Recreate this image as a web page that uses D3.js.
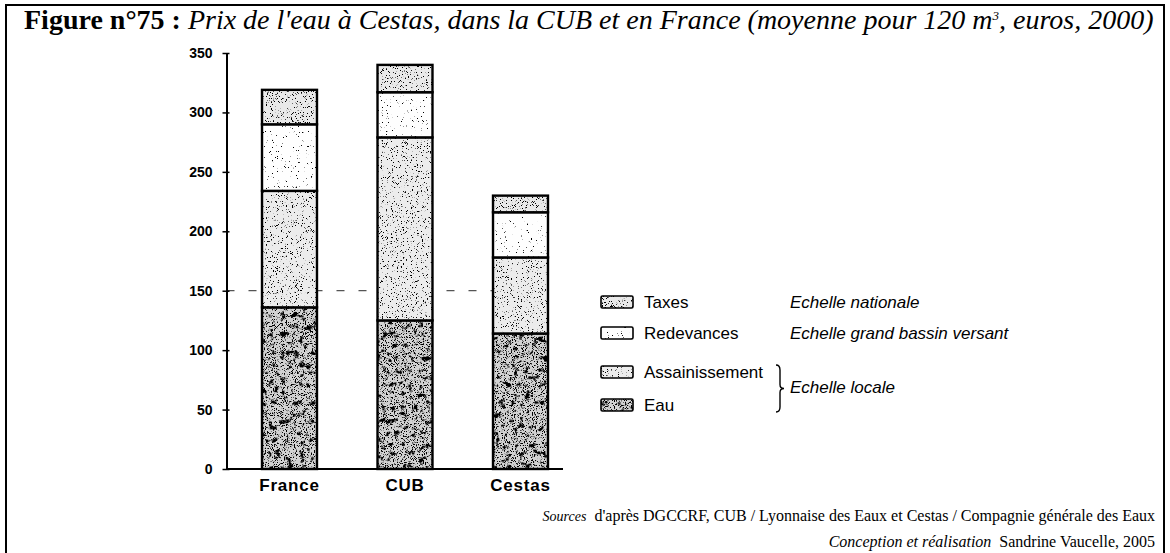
<!DOCTYPE html>
<html>
<head>
<meta charset="utf-8">
<script src="https://cdn.jsdelivr.net/npm/d3@7"></script>
<style>
  html, body { margin: 0; padding: 0; background: #fff; }
  svg { display: block; }
</style>
</head>
<body>
<svg id="chart" width="1170" height="553"></svg>
<script>
// Water price components, average bill for 120 m3, euros, 2000
const categories = ["France", "CUB", "Cestas"];
const series = ["Eau", "Assainissement", "Redevances", "Taxes"];
const eau            = [136, 125, 114];
const assainissement = [98, 154, 64];
const redevances     = [56, 38, 38];
const taxes          = [29, 23, 14];
const yTicks = [0, 50, 100, 150, 200, 250, 300, 350];
const legendRows = ["Taxes", "Redevances", "Assainissement", "Eau"];
const scaleNotes = ["Echelle nationale", "Echelle grand bassin versant"];
const localNote = "Echelle locale";

const valuesBySeries = { Eau: eau, Assainissement: assainissement, Redevances: redevances, Taxes: taxes };
const table = categories.map((c, i) => {
  const row = { cat: c };
  series.forEach(s => row[s] = valuesBySeries[s][i]);
  return row;
});
const stacked = d3.stack().keys(series)(table);

const svg = d3.select("#chart");

// grain filters: black specks / blotches over each fill
const defs = svg.append("defs");
function grain(id, layers) {
  const f = defs.append("filter").attr("id", id)
    .attr("x", 0).attr("y", 0).attr("width", "100%").attr("height", "100%");
  const names = [];
  layers.forEach((l, i) => {
    f.append("feTurbulence").attr("type", "fractalNoise")
      .attr("baseFrequency", l.freq).attr("numOctaves", l.oct).attr("seed", l.seed).attr("result", "n" + i);
    f.append("feColorMatrix").attr("in", "n" + i).attr("type", "matrix")
      .attr("values", `0 0 0 0 0  0 0 0 0 0  0 0 0 0 0  ${-l.gain} 0 0 0 ${l.off}`).attr("result", "a" + i);
    names.push("a" + i);
  });
  const m = f.append("feMerge").attr("result", "all");
  names.forEach(n => m.append("feMergeNode").attr("in", n));
  f.append("feComposite").attr("in", "all").attr("in2", "SourceAlpha").attr("operator", "in");
}
grain("g-eau", [
  { freq: 0.16, oct: 4, gain: 6, off: 2.55, seed: 11 },
  { freq: 0.9, oct: 3, gain: 10, off: 4.4, seed: 4 }
]);
grain("g-ass", [{ freq: 1.2, oct: 2, gain: 14, off: 5.0, seed: 3 }]);
grain("g-red", [{ freq: 1.2, oct: 2, gain: 14, off: 4.2, seed: 5 }]);
grain("g-tax", [{ freq: 1.2, oct: 2, gain: 14, off: 5.2, seed: 9 }]);

const baseFill = { Eau: "#d2d2d2", Assainissement: "#ececec", Redevances: "#fefefe", Taxes: "#e9e9e9" };
const grainId = { Eau: "g-eau", Assainissement: "g-ass", Redevances: "g-red", Taxes: "g-tax" };

// frame round the whole figure
svg.append("rect").attr("x", 6).attr("y", 5).attr("width", 1158).attr("height", 560)
  .attr("fill", "none").attr("stroke", "#000").attr("stroke-width", 2);

// title
const title = svg.append("text").attr("x", 24).attr("y", 29)
  .attr("font-family", "'Liberation Serif', 'Times New Roman', serif").attr("font-size", 22);
title.append("tspan").attr("font-weight", "bold").text("Figure n°75 : ");
title.append("tspan").attr("font-style", "italic").text("Prix de l'eau à Cestas, dans la CUB et en France (moyenne pour 120 m");
title.append("tspan").attr("font-style", "italic").attr("font-size", 13).attr("dy", -9).text("3");
title.append("tspan").attr("font-style", "italic").attr("dy", 9).text(", euros, 2000)");
const tw = title.node().getComputedTextLength();
title.attr("font-size", 22 * 1132 / tw);

// scales
const y = d3.scaleLinear().domain([0, 350]).range([469, 53]);
const x = d3.scaleBand().domain(categories).range([231.75, 578.25]).paddingInner(0.524).paddingOuter(0.262);
const axisX = 226.5;

// reference line at 150
svg.append("line").attr("x1", axisX).attr("x2", 552).attr("y1", y(150)).attr("y2", y(150))
  .attr("stroke", "#555").attr("stroke-width", 1.2).attr("stroke-dasharray", "8 14");

// y axis
const yAxis = d3.axisLeft(y).tickValues(yTicks).tickSize(4).tickSizeOuter(0).tickPadding(10);
const ga = svg.append("g").attr("transform", `translate(${axisX},0)`).call(yAxis);
ga.select(".domain").attr("stroke", "#000").attr("stroke-width", 2);
ga.selectAll(".tick line").attr("stroke", "#000").attr("stroke-width", 1.5).attr("x2", 3).attr("x1", -4);
ga.selectAll(".tick text").attr("font-family", "'Liberation Sans', Arial, sans-serif")
  .attr("font-weight", "bold").attr("font-size", 14).attr("fill", "#000");

// baseline
svg.append("line").attr("x1", axisX).attr("x2", 563).attr("y1", y(0)).attr("y2", y(0))
  .attr("stroke", "#000").attr("stroke-width", 2);

// stacked bars
const layers = svg.append("g").selectAll("g").data(stacked).join("g");
const segs = d => d.map(v => ({ key: d.key, v }));
function place(sel) {
  return sel.attr("x", d => x(d.v.data.cat)).attr("width", x.bandwidth())
    .attr("y", d => y(d.v[1])).attr("height", d => y(d.v[0]) - y(d.v[1]));
}
place(layers.selectAll("rect.base").data(segs).join("rect").attr("class", "base"))
  .attr("fill", d => baseFill[d.key]);
place(layers.selectAll("rect.grain").data(segs).join("rect").attr("class", "grain"))
  .attr("fill", "#000").attr("filter", d => `url(#${grainId[d.key]})`);
place(layers.selectAll("rect.edge").data(segs).join("rect").attr("class", "edge"))
  .attr("fill", "none").attr("stroke", "#000").attr("stroke-width", 2.4);

// category labels
svg.append("g").selectAll("text").data(categories).join("text")
  .attr("x", d => x(d) + x.bandwidth() / 2).attr("y", 491)
  .attr("text-anchor", "middle")
  .attr("font-family", "'Liberation Sans', Arial, sans-serif").attr("font-weight", "bold")
  .attr("font-size", 17).attr("letter-spacing", 0.8).text(d => d);

// legend
const legendY = { Taxes: 302, Redevances: 333, Assainissement: 372, Eau: 405 };
const lg = svg.append("g");
legendRows.forEach(s => {
  const cy = legendY[s];
  lg.append("rect").attr("x", 601).attr("y", cy - 6).attr("width", 32).attr("height", 12)
    .attr("fill", baseFill[s]).attr("rx", 1.5);
  lg.append("rect").attr("x", 601).attr("y", cy - 6).attr("width", 32).attr("height", 12)
    .attr("fill", "#000").attr("filter", `url(#${grainId[s]})`);
  lg.append("rect").attr("x", 601).attr("y", cy - 6).attr("width", 32).attr("height", 12)
    .attr("fill", "none").attr("stroke", "#000").attr("stroke-width", 1.6).attr("rx", 1.5);
  lg.append("text").attr("x", 644).attr("y", cy).attr("dy", "0.36em")
    .attr("font-family", "'Liberation Sans', Arial, sans-serif").attr("font-size", 17)
    .text(s);
});
scaleNotes.forEach((t, i) => {
  lg.append("text").attr("x", 790).attr("y", legendY[legendRows[i]]).attr("dy", "0.36em")
    .attr("font-family", "'Liberation Sans', Arial, sans-serif").attr("font-style", "italic")
    .attr("font-size", 17).text(t);
});
// brace grouping the two local components
const bx = 776, by0 = 365, by1 = 412, bm = (by0 + by1) / 2;
lg.append("path")
  .attr("d", `M${bx},${by0} q4,0 4,5 v${bm - by0 - 9} q0,4 4,4 q-4,0 -4,4 v${by1 - bm - 9} q0,5 -4,5`)
  .attr("fill", "none").attr("stroke", "#000").attr("stroke-width", 1.4);
lg.append("text").attr("x", 790).attr("y", 387).attr("dy", "0.36em")
  .attr("font-family", "'Liberation Sans', Arial, sans-serif").attr("font-style", "italic")
  .attr("font-size", 17).text(localNote);

// sources and credits
const src = svg.append("text").attr("x", 1155).attr("y", 521).attr("text-anchor", "end")
  .attr("font-family", "'Liberation Serif', 'Times New Roman', serif").attr("font-size", 16);
src.append("tspan").attr("font-style", "italic").attr("font-size", 14).text("Sources");
src.append("tspan").attr("dx", 8).text("d'après DGCCRF, CUB / Lyonnaise des Eaux et Cestas / Compagnie générale des Eaux");

const cred = svg.append("text").attr("x", 1155).attr("y", 547).attr("text-anchor", "end")
  .attr("font-family", "'Liberation Serif', 'Times New Roman', serif").attr("font-size", 16);
cred.append("tspan").attr("font-style", "italic").text("Conception et réalisation");
cred.append("tspan").attr("dx", 8).text("Sandrine Vaucelle, 2005");
</script>
</body>
</html>
